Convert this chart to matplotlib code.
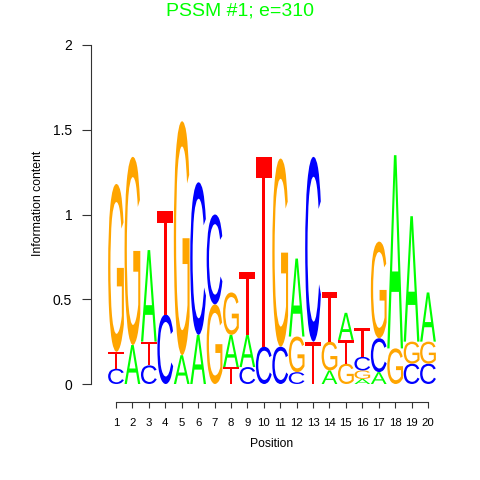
import matplotlib
matplotlib.use("Agg")
import matplotlib.pyplot as plt
import numpy as np
from matplotlib.textpath import TextPath
from matplotlib.patches import PathPatch
from matplotlib.font_manager import FontProperties
from matplotlib.transforms import Affine2D

positions = list(range(1, 21))
letters = ["A", "C", "G", "T"]
height_A = [0.00, 0.23, 0.54, 0.00, 0.17, 0.29, 0.00, 0.19, 0.19, 0.00,
            0.00, 0.46, 0.00, 0.08, 0.16, 0.03, 0.07, 1.14, 0.74, 0.29]
height_C = [0.09, 0.00, 0.11, 0.41, 0.00, 0.90, 0.53, 0.00, 0.10, 0.22,
            0.22, 0.07, 1.09, 0.00, 0.00, 0.08, 0.20, 0.00, 0.12, 0.12]
height_G = [0.99, 1.11, 0.00, 0.00, 1.38, 0.00, 0.47, 0.25, 0.00, 0.00,
            1.11, 0.21, 0.00, 0.17, 0.12, 0.05, 0.57, 0.21, 0.13, 0.13]
height_T = [0.10, 0.00, 0.14, 0.61, 0.00, 0.00, 0.00, 0.10, 0.37, 1.12,
            0.00, 0.00, 0.25, 0.29, 0.14, 0.17, 0.00, 0.00, 0.00, 0.00]
colors = {"A": "#00ff00", "C": "#0000ff", "G": "#ffa500", "T": "#ff0000"}
yticks = [0, 0.5, 1, 1.5, 2]
ytick_labels = ["0", "0.5", "1", "1.5", "2"]
title = "PSSM #1; e=310"

plt.rcParams['font.family'] = ['Liberation Sans', 'DejaVu Sans']

fig = plt.figure(figsize=(4.8, 4.8), dpi=100)
W = H = 480.0
ax = fig.add_axes([107.8 / W, (H - 384) / H, 328.4 / W, 339 / H])
ax.set_xlim(0.5, 20.5)
ax.set_ylim(0, 2)

fp = FontProperties(family="Liberation Sans", weight="normal")
glyphs = {}
for L in letters:
    p = TextPath((0, 0), L, size=1, prop=fp)
    ext = p.get_extents()
    glyphs[L] = (p, ext)

heights = {"A": height_A, "C": height_C, "G": height_G, "T": height_T}
colw = 0.96
for i, pos in enumerate(positions):
    col = sorted([(heights[L][i], L) for L in letters if heights[L][i] > 0])
    y0 = 0.0
    for h, L in col:
        p, ext = glyphs[L]
        tr = (Affine2D().translate(-ext.x0, -ext.y0)
              .scale(colw / ext.width, h / ext.height)
              .translate(pos - colw / 2, y0))
        patch = PathPatch(tr.transform_path(p), facecolor=colors[L],
                          edgecolor="none", transform=ax.transData)
        ax.add_patch(patch)
        y0 += h

for s in ["top", "right"]:
    ax.spines[s].set_visible(False)
ax.spines["left"].set_position(("outward", 12.1))
ax.spines["bottom"].set_position(("outward", 13))
ax.spines["left"].set_bounds(0, 2)
ax.spines["bottom"].set_bounds(1, 20)
for s in ["left", "bottom"]:
    ax.spines[s].set_linewidth(0.8)
    ax.spines[s].set_color("#333333")
ax.set_xticks(positions)
ax.set_xticklabels([str(p) for p in positions], fontsize=8.2)
ax.set_yticks(yticks)
ax.set_yticklabels(ytick_labels, fontsize=10)
ax.tick_params(axis="x", length=4.3, width=0.8, color="#333333", pad=7.5)
ax.tick_params(axis="y", length=6.5, width=0.8, color="#333333", pad=7)
ax.set_xlabel("Position", fontsize=8.7, labelpad=7)
fig.text(38 / W, 1 - 203 / H, "Information content", rotation=90,
         ha="center", va="center", fontsize=8.8)
fig.text(0.5, 1 - 15 / H, title, ha="center", va="baseline",
         fontsize=14, color="#00ff00")

fig.savefig("out.png", dpi=100)
